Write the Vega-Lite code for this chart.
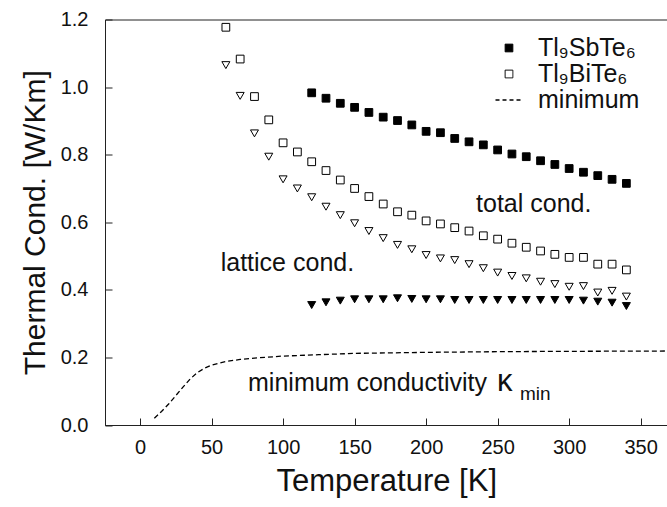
{
  "$schema": "https://vega.github.io/schema/vega-lite/v6.json",
  "width": 562.5,
  "height": 405.5,
  "autosize": "none",
  "padding": {"left": 105, "top": 19.5, "right": 0, "bottom": 82},
  "config": {
    "font": "Liberation Sans",
    "view": {"stroke": "#222", "strokeWidth": 1},
    "axis": {"grid": false, "domainColor": "#222", "tickColor": "#222", "labelColor": "#111", "titleColor": "#111", "titleFontWeight": "normal"}
  },
  "datasets": {
    "pts": [
      {"T": 120, "k": 0.983, "compound": "Tl₉SbTe₆", "kind": "total"},
      {"T": 130, "k": 0.967, "compound": "Tl₉SbTe₆", "kind": "total"},
      {"T": 140, "k": 0.952, "compound": "Tl₉SbTe₆", "kind": "total"},
      {"T": 150, "k": 0.940, "compound": "Tl₉SbTe₆", "kind": "total"},
      {"T": 160, "k": 0.925, "compound": "Tl₉SbTe₆", "kind": "total"},
      {"T": 170, "k": 0.911, "compound": "Tl₉SbTe₆", "kind": "total"},
      {"T": 180, "k": 0.901, "compound": "Tl₉SbTe₆", "kind": "total"},
      {"T": 190, "k": 0.888, "compound": "Tl₉SbTe₆", "kind": "total"},
      {"T": 200, "k": 0.869, "compound": "Tl₉SbTe₆", "kind": "total"},
      {"T": 210, "k": 0.865, "compound": "Tl₉SbTe₆", "kind": "total"},
      {"T": 220, "k": 0.848, "compound": "Tl₉SbTe₆", "kind": "total"},
      {"T": 230, "k": 0.838, "compound": "Tl₉SbTe₆", "kind": "total"},
      {"T": 240, "k": 0.829, "compound": "Tl₉SbTe₆", "kind": "total"},
      {"T": 250, "k": 0.814, "compound": "Tl₉SbTe₆", "kind": "total"},
      {"T": 260, "k": 0.802, "compound": "Tl₉SbTe₆", "kind": "total"},
      {"T": 270, "k": 0.794, "compound": "Tl₉SbTe₆", "kind": "total"},
      {"T": 280, "k": 0.782, "compound": "Tl₉SbTe₆", "kind": "total"},
      {"T": 290, "k": 0.771, "compound": "Tl₉SbTe₆", "kind": "total"},
      {"T": 300, "k": 0.759, "compound": "Tl₉SbTe₆", "kind": "total"},
      {"T": 310, "k": 0.748, "compound": "Tl₉SbTe₆", "kind": "total"},
      {"T": 320, "k": 0.738, "compound": "Tl₉SbTe₆", "kind": "total"},
      {"T": 330, "k": 0.727, "compound": "Tl₉SbTe₆", "kind": "total"},
      {"T": 340, "k": 0.715, "compound": "Tl₉SbTe₆", "kind": "total"},
      {"T": 60, "k": 1.177, "compound": "Tl₉BiTe₆", "kind": "total"},
      {"T": 70, "k": 1.083, "compound": "Tl₉BiTe₆", "kind": "total"},
      {"T": 80, "k": 0.972, "compound": "Tl₉BiTe₆", "kind": "total"},
      {"T": 90, "k": 0.903, "compound": "Tl₉BiTe₆", "kind": "total"},
      {"T": 100, "k": 0.835, "compound": "Tl₉BiTe₆", "kind": "total"},
      {"T": 110, "k": 0.808, "compound": "Tl₉BiTe₆", "kind": "total"},
      {"T": 120, "k": 0.779, "compound": "Tl₉BiTe₆", "kind": "total"},
      {"T": 130, "k": 0.753, "compound": "Tl₉BiTe₆", "kind": "total"},
      {"T": 140, "k": 0.725, "compound": "Tl₉BiTe₆", "kind": "total"},
      {"T": 150, "k": 0.700, "compound": "Tl₉BiTe₆", "kind": "total"},
      {"T": 160, "k": 0.676, "compound": "Tl₉BiTe₆", "kind": "total"},
      {"T": 170, "k": 0.654, "compound": "Tl₉BiTe₆", "kind": "total"},
      {"T": 180, "k": 0.631, "compound": "Tl₉BiTe₆", "kind": "total"},
      {"T": 190, "k": 0.621, "compound": "Tl₉BiTe₆", "kind": "total"},
      {"T": 200, "k": 0.604, "compound": "Tl₉BiTe₆", "kind": "total"},
      {"T": 210, "k": 0.595, "compound": "Tl₉BiTe₆", "kind": "total"},
      {"T": 220, "k": 0.584, "compound": "Tl₉BiTe₆", "kind": "total"},
      {"T": 230, "k": 0.574, "compound": "Tl₉BiTe₆", "kind": "total"},
      {"T": 240, "k": 0.560, "compound": "Tl₉BiTe₆", "kind": "total"},
      {"T": 250, "k": 0.550, "compound": "Tl₉BiTe₆", "kind": "total"},
      {"T": 260, "k": 0.538, "compound": "Tl₉BiTe₆", "kind": "total"},
      {"T": 270, "k": 0.526, "compound": "Tl₉BiTe₆", "kind": "total"},
      {"T": 280, "k": 0.515, "compound": "Tl₉BiTe₆", "kind": "total"},
      {"T": 290, "k": 0.505, "compound": "Tl₉BiTe₆", "kind": "total"},
      {"T": 300, "k": 0.496, "compound": "Tl₉BiTe₆", "kind": "total"},
      {"T": 310, "k": 0.496, "compound": "Tl₉BiTe₆", "kind": "total"},
      {"T": 320, "k": 0.476, "compound": "Tl₉BiTe₆", "kind": "total"},
      {"T": 330, "k": 0.476, "compound": "Tl₉BiTe₆", "kind": "total"},
      {"T": 340, "k": 0.459, "compound": "Tl₉BiTe₆", "kind": "total"},
      {"T": 60, "k": 1.065, "compound": "Tl₉BiTe₆", "kind": "lattice"},
      {"T": 70, "k": 0.974, "compound": "Tl₉BiTe₆", "kind": "lattice"},
      {"T": 80, "k": 0.863, "compound": "Tl₉BiTe₆", "kind": "lattice"},
      {"T": 90, "k": 0.794, "compound": "Tl₉BiTe₆", "kind": "lattice"},
      {"T": 100, "k": 0.727, "compound": "Tl₉BiTe₆", "kind": "lattice"},
      {"T": 110, "k": 0.700, "compound": "Tl₉BiTe₆", "kind": "lattice"},
      {"T": 120, "k": 0.674, "compound": "Tl₉BiTe₆", "kind": "lattice"},
      {"T": 130, "k": 0.646, "compound": "Tl₉BiTe₆", "kind": "lattice"},
      {"T": 140, "k": 0.621, "compound": "Tl₉BiTe₆", "kind": "lattice"},
      {"T": 150, "k": 0.597, "compound": "Tl₉BiTe₆", "kind": "lattice"},
      {"T": 160, "k": 0.574, "compound": "Tl₉BiTe₆", "kind": "lattice"},
      {"T": 170, "k": 0.553, "compound": "Tl₉BiTe₆", "kind": "lattice"},
      {"T": 180, "k": 0.533, "compound": "Tl₉BiTe₆", "kind": "lattice"},
      {"T": 190, "k": 0.520, "compound": "Tl₉BiTe₆", "kind": "lattice"},
      {"T": 200, "k": 0.503, "compound": "Tl₉BiTe₆", "kind": "lattice"},
      {"T": 210, "k": 0.493, "compound": "Tl₉BiTe₆", "kind": "lattice"},
      {"T": 220, "k": 0.488, "compound": "Tl₉BiTe₆", "kind": "lattice"},
      {"T": 230, "k": 0.476, "compound": "Tl₉BiTe₆", "kind": "lattice"},
      {"T": 240, "k": 0.464, "compound": "Tl₉BiTe₆", "kind": "lattice"},
      {"T": 250, "k": 0.451, "compound": "Tl₉BiTe₆", "kind": "lattice"},
      {"T": 260, "k": 0.441, "compound": "Tl₉BiTe₆", "kind": "lattice"},
      {"T": 270, "k": 0.434, "compound": "Tl₉BiTe₆", "kind": "lattice"},
      {"T": 280, "k": 0.424, "compound": "Tl₉BiTe₆", "kind": "lattice"},
      {"T": 290, "k": 0.417, "compound": "Tl₉BiTe₆", "kind": "lattice"},
      {"T": 300, "k": 0.409, "compound": "Tl₉BiTe₆", "kind": "lattice"},
      {"T": 310, "k": 0.411, "compound": "Tl₉BiTe₆", "kind": "lattice"},
      {"T": 320, "k": 0.392, "compound": "Tl₉BiTe₆", "kind": "lattice"},
      {"T": 330, "k": 0.397, "compound": "Tl₉BiTe₆", "kind": "lattice"},
      {"T": 340, "k": 0.380, "compound": "Tl₉BiTe₆", "kind": "lattice"},
      {"T": 120, "k": 0.355, "compound": "Tl₉SbTe₆", "kind": "lattice"},
      {"T": 130, "k": 0.363, "compound": "Tl₉SbTe₆", "kind": "lattice"},
      {"T": 140, "k": 0.368, "compound": "Tl₉SbTe₆", "kind": "lattice"},
      {"T": 150, "k": 0.372, "compound": "Tl₉SbTe₆", "kind": "lattice"},
      {"T": 160, "k": 0.372, "compound": "Tl₉SbTe₆", "kind": "lattice"},
      {"T": 170, "k": 0.372, "compound": "Tl₉SbTe₆", "kind": "lattice"},
      {"T": 180, "k": 0.375, "compound": "Tl₉SbTe₆", "kind": "lattice"},
      {"T": 190, "k": 0.373, "compound": "Tl₉SbTe₆", "kind": "lattice"},
      {"T": 200, "k": 0.372, "compound": "Tl₉SbTe₆", "kind": "lattice"},
      {"T": 210, "k": 0.372, "compound": "Tl₉SbTe₆", "kind": "lattice"},
      {"T": 220, "k": 0.370, "compound": "Tl₉SbTe₆", "kind": "lattice"},
      {"T": 230, "k": 0.370, "compound": "Tl₉SbTe₆", "kind": "lattice"},
      {"T": 240, "k": 0.370, "compound": "Tl₉SbTe₆", "kind": "lattice"},
      {"T": 250, "k": 0.370, "compound": "Tl₉SbTe₆", "kind": "lattice"},
      {"T": 260, "k": 0.370, "compound": "Tl₉SbTe₆", "kind": "lattice"},
      {"T": 270, "k": 0.370, "compound": "Tl₉SbTe₆", "kind": "lattice"},
      {"T": 280, "k": 0.370, "compound": "Tl₉SbTe₆", "kind": "lattice"},
      {"T": 290, "k": 0.370, "compound": "Tl₉SbTe₆", "kind": "lattice"},
      {"T": 300, "k": 0.370, "compound": "Tl₉SbTe₆", "kind": "lattice"},
      {"T": 310, "k": 0.368, "compound": "Tl₉SbTe₆", "kind": "lattice"},
      {"T": 320, "k": 0.365, "compound": "Tl₉SbTe₆", "kind": "lattice"},
      {"T": 330, "k": 0.362, "compound": "Tl₉SbTe₆", "kind": "lattice"},
      {"T": 340, "k": 0.352, "compound": "Tl₉SbTe₆", "kind": "lattice"}
    ],
    "kmin": [
      {"T": 10, "k": 0.020},
      {"T": 15, "k": 0.040},
      {"T": 20, "k": 0.062},
      {"T": 25, "k": 0.087},
      {"T": 30, "k": 0.112},
      {"T": 35, "k": 0.136},
      {"T": 40, "k": 0.155},
      {"T": 45, "k": 0.168},
      {"T": 50, "k": 0.177},
      {"T": 55, "k": 0.183},
      {"T": 60, "k": 0.188},
      {"T": 70, "k": 0.194},
      {"T": 80, "k": 0.198},
      {"T": 100, "k": 0.204},
      {"T": 125, "k": 0.208},
      {"T": 150, "k": 0.212},
      {"T": 200, "k": 0.215},
      {"T": 250, "k": 0.217},
      {"T": 300, "k": 0.218},
      {"T": 370, "k": 0.219}
    ],
    "notes": [
      {"label": "total cond.", "T": 234.9, "k": 0.631},
      {"label": "lattice cond.", "T": 56.4, "k": 0.4566},
      {"label": "minimum conductivity", "T": 75.5, "k": 0.1018}
    ],
    "kappa": [
      {"label": "κ", "T": 249.5, "k": 0.1018}
    ],
    "subs": [
      {"label": "min", "T": 265.6, "k": 0.075}
    ]
  },
  "layer": [
    {
      "data": {"name": "pts"},
      "transform": [{"filter": "datum.kind === 'total'"}],
      "mark": {"type": "point", "shape": "square", "size": 60, "filled": true, "stroke": "#000", "strokeWidth": 1, "opacity": 1},
      "encoding": {
        "x": {"field": "T", "type": "quantitative", "scale": {"domain": [-24.5, 368.75], "nice": false, "zero": false},
          "axis": {"values": [0, 50, 100, 150, 200, 250, 300, 350], "tickSize": -7, "labelFontSize": 20, "labelPadding": 19, "title": "Temperature [K]", "titleFontSize": 31, "titlePadding": 9}},
        "y": {"field": "k", "type": "quantitative", "scale": {"domain": [0, 1.2], "nice": false, "zero": false},
          "axis": {"values": [0, 0.2, 0.4, 0.6, 0.8, 1.0, 1.2], "format": ".1f", "tickSize": -7, "labelFontSize": 20, "labelPadding": 24, "title": "Thermal Cond. [W/Km]", "titleFontSize": 30, "titlePadding": 10}},
        "fill": {"field": "compound", "type": "nominal",
          "scale": {"domain": ["Tl₉SbTe₆", "Tl₉BiTe₆", "minimum"], "range": ["#000", "#fff", "#000"]},
          "legend": {"title": null, "orient": "none", "legendX": 391.5, "legendY": 16, "padding": 0, "labelFontSize": 25, "labelFont": "Liberation Sans", "labelColor": "#111", "symbolSize": 60, "labelOffset": 16.5, "rowPadding": 0, "symbolStrokeWidth": 1, "symbolStrokeColor": "#000", "symbolOpacity": 1,
            "encode": {"symbols": {"update": {
              "shape": {"signal": "datum.value === 'minimum' ? 'M-1,0L1,0' : 'square'"},
              "size": {"signal": "datum.value === 'minimum' ? 729 : 60"},
              "strokeDash": {"signal": "datum.value === 'minimum' ? [4, 3] : [1, 0]"},
              "stroke": {"value": "#000"},
              "strokeWidth": {"signal": "datum.value === 'minimum' ? 1.3 : 1"}
            }}}}
        }
      }
    },
    {
      "data": {"name": "pts"},
      "transform": [{"filter": "datum.kind === 'lattice'"}],
      "mark": {"type": "point", "shape": "triangle-down", "size": 64, "filled": true, "stroke": "#000", "strokeWidth": 1, "opacity": 1},
      "encoding": {
        "x": {"field": "T", "type": "quantitative"},
        "y": {"field": "k", "type": "quantitative"},
        "fill": {"field": "compound", "type": "nominal"}
      }
    },
    {
      "data": {"name": "kmin"},
      "mark": {"type": "line", "color": "#000", "strokeWidth": 1.3, "strokeDash": [5, 3], "clip": true},
      "encoding": {
        "x": {"field": "T", "type": "quantitative"},
        "y": {"field": "k", "type": "quantitative"}
      }
    },
    {
      "data": {"name": "notes"},
      "mark": {"type": "text", "align": "left", "baseline": "alphabetic", "fontSize": 25, "color": "#111"},
      "encoding": {"x": {"field": "T", "type": "quantitative"}, "y": {"field": "k", "type": "quantitative"}, "text": {"field": "label"}}
    },
    {
      "data": {"name": "kappa"},
      "mark": {"type": "text", "align": "left", "baseline": "alphabetic", "fontSize": 31, "color": "#111"},
      "encoding": {"x": {"field": "T", "type": "quantitative"}, "y": {"field": "k", "type": "quantitative"}, "text": {"field": "label"}}
    },
    {
      "data": {"name": "subs"},
      "mark": {"type": "text", "align": "left", "baseline": "alphabetic", "fontSize": 19, "color": "#111"},
      "encoding": {"x": {"field": "T", "type": "quantitative"}, "y": {"field": "k", "type": "quantitative"}, "text": {"field": "label"}}
    }
  ]
}
